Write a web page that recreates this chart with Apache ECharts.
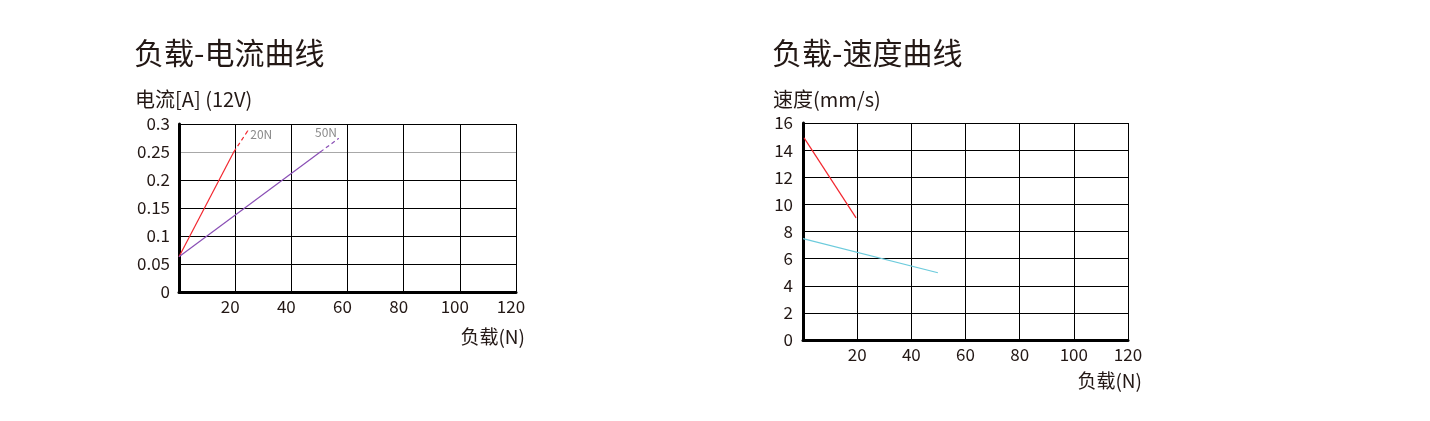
<!DOCTYPE html>
<html>
<head>
<meta charset="utf-8">
<script src="https://cdn.jsdelivr.net/npm/echarts@6/dist/echarts.min.js"></script>
<style>
html,body{margin:0;padding:0;background:#fff;}
#chart{width:1430px;height:421px;}
</style>
</head>
<body>
<div id="chart"></div>
<script>
// ---- data ----
const xTicks = [0, 20, 40, 60, 80, 100, 120];
const currentTicks = [0, 0.05, 0.1, 0.15, 0.2, 0.25, 0.3];
const speedTicks = [0, 2, 4, 6, 8, 10, 12, 14, 16];

// 负载-电流 (12V)
const cur20N_load = [0, 19.5];
const cur20N_val = [0.063, 0.25];
const cur20N_ext_load = [19.5, 24.5];
const cur20N_ext_val = [0.25, 0.288];

const cur50N_load = [0, 50.3];
const cur50N_val = [0.063, 0.25];
const cur50N_ext_load = [50.3, 56.8];
const cur50N_ext_val = [0.25, 0.274];

// 负载-速度
const spdRed_load = [0.4, 19.6];
const spdRed_val = [14.9, 9.0];
const spdCyan_load = [0, 49.8];
const spdCyan_val = [7.48, 4.96];

// ---- helpers ----
const FONT = "'Noto Sans CJK SC','Noto Sans',sans-serif";
const TXT = '#231815';
const pairs = (xs, ys) => xs.map((x, i) => [x, ys[i]]);

function labelled(xs, ys, text, labelOpt) {
  return xs.map((x, i) => i === xs.length - 1
    ? { value: [x, ys[i]], label: Object.assign({ show: true, formatter: text, color: '#8a8a8a', fontSize: 12, fontFamily: FONT }, labelOpt) }
    : { value: [x, ys[i]] });
}

function xAxisCfg(gridIndex, labelPad) {
  return {
    type: 'value', gridIndex: gridIndex,
    min: xTicks[0], max: xTicks[xTicks.length - 1], interval: xTicks[1] - xTicks[0],
    axisLine: { show: true, onZero: false, lineStyle: { color: '#000', width: 3 } },
    axisTick: { show: false },
    splitLine: { show: true, lineStyle: { color: '#000', width: 1 } },
    axisLabel: {
      fontSize: 17, color: TXT, fontFamily: FONT, margin: 6, padding: labelPad,
      formatter: v => (v === 0 ? '' : String(v))
    }
  };
}

const titleStyle = (size) => ({ fontSize: size, fontWeight: 'normal', color: TXT, fontFamily: FONT });

const option = {
  animation: false,
  backgroundColor: '#fff',
  title: [
    { text: '负载-电流曲线', left: 134, top: 38, padding: 0, textStyle: titleStyle(30) },
    { text: '负载-速度曲线', left: 772, top: 38, padding: 0, textStyle: titleStyle(30) },
    { text: '电流[A] (12V)', left: 135, top: 89, padding: 0, textStyle: titleStyle(20) },
    { text: '速度(mm/s)', left: 773, top: 89, padding: 0, textStyle: titleStyle(20) },
    { text: '负载(N)', right: 905, top: 327, padding: 0, textStyle: titleStyle(19) },
    { text: '负载(N)', right: 288, top: 371, padding: 0, textStyle: titleStyle(19) }
  ],
  grid: [
    { left: 179, top: 124, width: 337, height: 168 },
    { left: 803, top: 123, width: 325, height: 217 }
  ],
  xAxis: [xAxisCfg(0, [0, 10, 0, 0]), xAxisCfg(1, [0, 0, 0, 0])],
  yAxis: [
    {
      type: 'value', gridIndex: 0,
      min: currentTicks[0], max: currentTicks[currentTicks.length - 1], interval: 0.05,
      axisLine: { show: true, lineStyle: { color: '#000', width: 3 } },
      axisTick: { show: false },
      splitLine: { show: true, lineStyle: { color: ['#000', '#000', '#000', '#000', '#000', '#a8a8a8', '#000'], width: 1 } },
      axisLabel: { fontSize: 17, color: TXT, fontFamily: FONT, margin: 9 }
    },
    {
      type: 'value', gridIndex: 1,
      min: speedTicks[0], max: speedTicks[speedTicks.length - 1], interval: 2,
      axisLine: { show: true, lineStyle: { color: '#000', width: 3 } },
      axisTick: { show: false },
      splitLine: { show: true, lineStyle: { color: '#000', width: 1 } },
      axisLabel: { fontSize: 17, color: TXT, fontFamily: FONT, margin: 10 }
    }
  ],
  series: [
    { type: 'line', xAxisIndex: 0, yAxisIndex: 0, symbol: 'none', data: pairs(cur20N_load, cur20N_val), lineStyle: { color: '#f2262e', width: 1.2 }, z: 5 },
    { type: 'line', xAxisIndex: 0, yAxisIndex: 0, symbol: 'circle', symbolSize: 1, itemStyle: { color: '#f2262e' },
      data: labelled(cur20N_ext_load, cur20N_ext_val, '20N', { position: 'right', distance: 2, offset: [0, 4] }),
      lineStyle: { color: '#f2262e', width: 1.2, type: [4, 3] }, z: 5 },
    { type: 'line', xAxisIndex: 0, yAxisIndex: 0, symbol: 'none', data: pairs(cur50N_load, cur50N_val), lineStyle: { color: '#8a4fb5', width: 1.2 }, z: 5 },
    { type: 'line', xAxisIndex: 0, yAxisIndex: 0, symbol: 'circle', symbolSize: 1, itemStyle: { color: '#8a4fb5' },
      data: labelled(cur50N_ext_load, cur50N_ext_val, '50N', { position: 'left', distance: 1, offset: [0, -6] }),
      lineStyle: { color: '#8a4fb5', width: 1.2, type: [4, 3] }, z: 5 },
    { type: 'line', xAxisIndex: 1, yAxisIndex: 1, symbol: 'none', data: pairs(spdRed_load, spdRed_val), lineStyle: { color: '#f2262e', width: 1.2 }, z: 5 },
    { type: 'line', xAxisIndex: 1, yAxisIndex: 1, symbol: 'none', data: pairs(spdCyan_load, spdCyan_val), lineStyle: { color: '#6ccbdc', width: 1.2 }, z: 5 }
  ]
};

const chart = echarts.init(document.getElementById('chart'), null, { renderer: 'canvas' });
chart.setOption(option);
</script>
</body>
</html>
